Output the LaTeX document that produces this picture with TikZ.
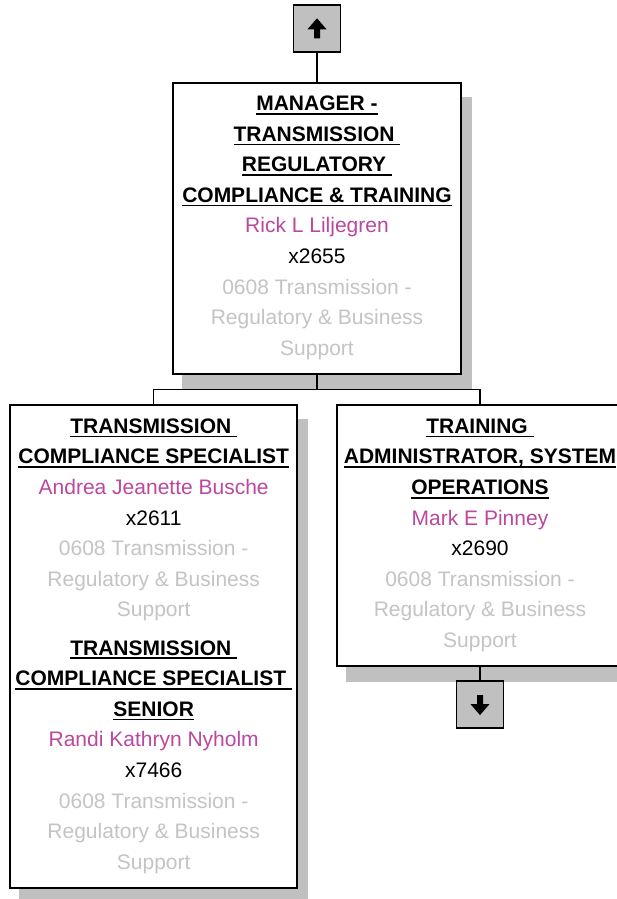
\documentclass[tikz,border=0pt]{standalone}
\usepackage{fontspec}
\setmainfont{Liberation Sans}
\usetikzlibrary{backgrounds}
\definecolor{namec}{RGB}{187,71,158}
\definecolor{deptc}{RGB}{196,196,196}
\definecolor{shadc}{RGB}{192,192,192}
\newcommand\bigf{\fontsize{21}{25}\selectfont}
\newcommand\myul[1]{\setbox0=\hbox{#1}\rlap{\rule[-4pt]{\wd0}{1.7pt}}\box0}
\tikzset{
  box/.style={draw=black, line width=1.8pt, fill=white, inner sep=0, rectangle},
  navbox/.style={draw=black, line width=1.8pt, fill=shadc, inner sep=0, minimum width=47pt, minimum height=47pt},
  conn/.style={draw=black, line width=1.5pt},
  shadowfill/.style={fill=shadc},
  ttl/.style={font=\bigf\bfseries, anchor=base, inner sep=0, text=black},
  nm/.style={font=\bigf, anchor=base, inner sep=0, text=namec},
  ext/.style={font=\bigf, anchor=base, inner sep=0, text=black},
  dept/.style={font=\bigf, anchor=base, inner sep=0, text=deptc},
}
\begin{document}
\begin{tikzpicture}[x=1pt,y=-1pt]
\useasboundingbox (0,0) rectangle (617,899);
\clip (0,0) rectangle (617,899);
% boxes
\node[navbox] (upb) at (317,28.7) {};
\node[box, minimum width=287.4pt, minimum height=290.7pt] (mgr) at (317,228.7) {};
\node[box, minimum width=287.3pt, minimum height=483.3pt] (lft) at (153.7,646.7) {};
\node[box, minimum width=286.6pt, minimum height=261pt] (rgt) at (480,535.5) {};
\node[navbox] (dnb) at (480,704.7) {};
\coordinate (bus) at (317,389.5);
% shadows and connectors
\begin{pgfonlayer}{background}
\foreach \b in {mgr,lft,rgt}{
  \fill[shadowfill] ([shift={(10,15)}]\b.north west) rectangle ([shift={(10,15)}]\b.south east);
}
\draw[conn] (upb.south) -- (mgr.north);
\draw[conn] (mgr.south) -- (bus);
\draw[conn] (lft.north) |- (bus) -| (rgt.north);
\draw[conn] (rgt.south) -- (dnb.north);
\end{pgfonlayer}
% arrows
\fill[black, shift={(upb.center)}] (0,-10.4) -- (9.5,0.6) -- (3,0.6) -- (3,9.6) -- (-3,9.6) -- (-3,0.6) -- (-9.5,0.6) -- cycle;
\fill[black, shift={(dnb.center)}] (0,10.4) -- (9.5,-0.6) -- (3,-0.6) -- (3,-9.6) -- (-3,-9.6) -- (-3,-0.6) -- (-9.5,-0.6) -- cycle;
% manager text
\node[ttl] (m1) at (317,110.7) {\myul{MANAGER -}};
\node[ttl] (m2) at (317,141.25) {\myul{TRANSMISSION\ }};
\node[ttl] (m3) at (317,171.8) {\myul{REGULATORY\ }};
\node[ttl] (m4) at (317,202.35) {\myul{COMPLIANCE \& TRAINING}};
\node[nm] (m5) at (317,232.9) {Rick L Liljegren};
\node[ext] (m6) at (317,263.45) {x2655};
\node[dept] (m7) at (317,294) {0608 Transmission -\ };
\node[dept] (m8) at (317,324.55) {Regulatory \& Business};
\node[dept] (m9) at (317,355.1) {Support};
% left box text
\node[ttl] (l1) at (153.7,433.3) {\myul{TRANSMISSION\ }};
\node[ttl] (l2) at (153.7,463.9) {\myul{COMPLIANCE SPECIALIST}};
\node[nm] (l3) at (153.7,494.5) {Andrea Jeanette Busche};
\node[ext] (l4) at (153.7,525.1) {x2611};
\node[dept] (l5) at (153.7,555.7) {0608 Transmission -\ };
\node[dept] (l6) at (153.7,586.3) {Regulatory \& Business};
\node[dept] (l7) at (153.7,616.9) {Support};
\node[ttl] (s1) at (153.7,655) {\myul{TRANSMISSION\ }};
\node[ttl] (s2) at (153.7,685.6) {\myul{COMPLIANCE SPECIALIST\ }};
\node[ttl] (s3) at (153.7,716.2) {\myul{SENIOR}};
\node[nm] (s4) at (153.7,746.8) {Randi Kathryn Nyholm};
\node[ext] (s5) at (153.7,777.4) {x7466};
\node[dept] (s6) at (153.7,808) {0608 Transmission -\ };
\node[dept] (s7) at (153.7,838.6) {Regulatory \& Business};
\node[dept] (s8) at (153.7,869.2) {Support};
% right box text
\node[ttl] (r1) at (480,433.3) {\myul{TRAINING\ }};
\node[ttl] (r2) at (480,463.9) {\myul{ADMINISTRATOR, SYSTEM}};
\node[ttl] (r3) at (480,494.5) {\myul{OPERATIONS}};
\node[nm] (r4) at (480,525.1) {Mark E Pinney};
\node[ext] (r5) at (480,555.7) {x2690};
\node[dept] (r6) at (480,586.3) {0608 Transmission -\ };
\node[dept] (r7) at (480,616.9) {Regulatory \& Business};
\node[dept] (r8) at (480,647.5) {Support};
\end{tikzpicture}
\end{document}
